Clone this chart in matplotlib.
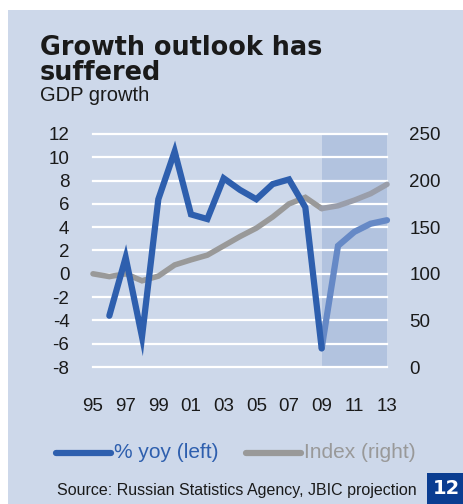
import matplotlib
matplotlib.use("Agg")
import matplotlib.pyplot as plt
from matplotlib.lines import Line2D
from matplotlib.patches import Rectangle

plt.rcParams['font.family'] = ['Liberation Sans', 'DejaVu Sans']

# ── Data ──────────────────────────────────────────────────────────────────────
years_yoy = [1996, 1997, 1998, 1999, 2000, 2001, 2002, 2003, 2004, 2005,
             2006, 2007, 2008, 2009, 2010, 2011, 2012, 2013]
gdp_yoy   = [-3.6, 1.4, -5.4, 6.4, 10.5, 5.1, 4.7, 8.2, 7.2, 6.4,
             7.7, 8.1, 5.7, -6.4, 2.4, 3.6, 4.3, 4.6]

years_idx = [1995, 1996, 1997, 1998, 1999, 2000, 2001, 2002, 2003, 2004,
             2005, 2006, 2007, 2008, 2009, 2010, 2011, 2012, 2013]
gdp_index = [100, 97, 100, 92.5, 97.5, 109.5, 115, 120, 130, 140,
             149, 161, 175, 182, 170, 173, 179, 186, 196]

proj_start = 2009
left_ticks  = [-8, -6, -4, -2, 0, 2, 4, 6, 8, 10, 12]
right_ticks = [0, 50, 100, 150, 200, 250]
xtick_years = list(range(1995, 2014, 2))

BG     = "#cdd8ea"
SHADE  = "#b2c3df"
BLUE   = "#2e5fae"
BLUE_P = "#6689c6"
GREY   = "#999999"
GREY_P = "#9a9eaa"
TXT    = "#1a1a1a"

W, H = 464, 504
fig = plt.figure(figsize=(W / 100, H / 100), dpi=100)
fig.patch.set_facecolor("white")

def fx(px):
    return px / W

def fy(py):
    return 1 - py / H

# panel background
fig.add_artist(Rectangle((fx(8), 0), 1 - fx(8), fy(10), transform=fig.transFigure,
                         facecolor=BG, edgecolor="none", zorder=0))

ax = fig.add_axes([fx(93), fy(367), fx(387) - fx(93), fy(134) - fy(367)])
ax.set_facecolor("none")
ax.set_xlim(1995, 2013)
ax.set_ylim(-8, 12)
for sp in ax.spines.values():
    sp.set_visible(False)

ax2 = ax.twinx()
ax2.set_ylim(0, 250)
ax2.set_yticks(right_ticks)
ax2.tick_params(axis="y", length=0, pad=16, labelsize=13.5, labelcolor=TXT)
ax2.patch.set_visible(False)
for sp in ax2.spines.values():
    sp.set_visible(False)

# projection shading
ax.fill_between([proj_start, years_yoy[-1]], -8, 12, color=SHADE, lw=0, zorder=1)

for v in left_ticks:
    ax.axhline(v, color="white", lw=1.6, zorder=2, clip_on=False)

ax.set_yticks(left_ticks)
ax.set_yticklabels([str(v) for v in left_ticks])
ax.tick_params(axis="y", length=0, pad=17, labelsize=13.5, labelcolor=TXT)
ax.set_xticks(xtick_years)
ax.set_xticklabels([f"{y % 100:02d}" for y in xtick_years])
ax.tick_params(axis="x", length=0, pad=22, labelsize=13.5, labelcolor=TXT)

line_kw = dict(solid_capstyle="round", solid_joinstyle="miter", clip_on=False)

# index series is plotted against the right-hand scale
i_idx = years_idx.index(proj_start)
ax.plot(years_idx[:i_idx + 1], gdp_index[:i_idx + 1], color=GREY, lw=4,
        transform=ax2.transData, zorder=3, **line_kw)
ax.plot(years_idx[i_idx:], gdp_index[i_idx:], color=GREY_P, lw=4,
        transform=ax2.transData, zorder=3, **line_kw)

i_yoy = years_yoy.index(proj_start)
ax.plot(years_yoy[i_yoy:], gdp_yoy[i_yoy:], color=BLUE_P, lw=4.5, zorder=4, **line_kw)
ax.plot(years_yoy[:i_yoy + 1], gdp_yoy[:i_yoy + 1], color=BLUE, lw=4.5, zorder=4, **line_kw)

# titles
fig.text(fx(40), fy(80), "Growth outlook has\nsuffered", fontsize=18.4, fontweight="bold",
         family="DejaVu Sans", color=TXT, va="baseline", linespacing=0.95)
fig.text(fx(40), fy(101), "GDP growth", fontsize=14.5, color=TXT, va="baseline")

# legend
fig.add_artist(Line2D([fx(56), fx(111)], [fy(453), fy(453)], transform=fig.transFigure,
                      color=BLUE, lw=4.5, solid_capstyle="round"))
fig.text(fx(114), fy(453), "% yoy (left)", fontsize=15, color=BLUE, va="center")
fig.add_artist(Line2D([fx(246), fx(301)], [fy(453), fy(453)], transform=fig.transFigure,
                      color=GREY, lw=4.5, solid_capstyle="round"))
fig.text(fx(304), fy(453), "Index (right)", fontsize=15, color=GREY, va="center")

# source and page number
fig.text(fx(57), fy(490), "Source: Russian Statistics Agency, JBIC projection",
         fontsize=11.5, color=TXT, va="center")
fig.add_artist(Rectangle((fx(427), 0), 1 - fx(427), fy(473), transform=fig.transFigure,
                         facecolor="#0a3d91", edgecolor="none"))
fig.text(fx(446), fy(489), "12", fontsize=14, fontweight="bold", color="white",
         family="DejaVu Sans", ha="center", va="center")

fig.savefig("out.png", dpi=100, facecolor=fig.get_facecolor())
